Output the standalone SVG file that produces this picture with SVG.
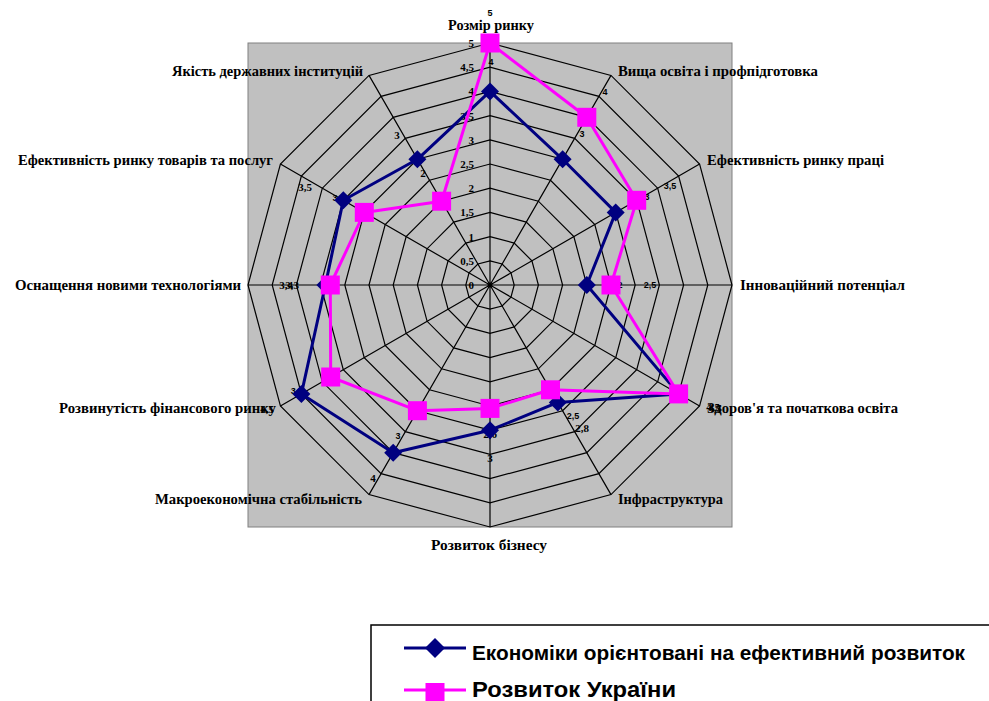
<svg xmlns="http://www.w3.org/2000/svg" width="989" height="701" viewBox="0 0 989 701">
  <style>
    .grid { fill: none; stroke: #000; stroke-width: 1.2; }
    .cat { font-family: "Liberation Serif", "Times New Roman", serif; font-weight: bold; font-size: 14.7px; fill: #000; }
    .tick { font-family: "Liberation Serif", "Times New Roman", serif; font-weight: bold; font-size: 11px; fill: #000; text-anchor: end; }
    .dl { font-family: "Liberation Sans", Arial, sans-serif; font-weight: bold; font-size: 9px; fill: #000; text-anchor: middle; }
    .dls { font-family: "Liberation Serif", "Times New Roman", serif; font-weight: bold; font-size: 11px; fill: #000; text-anchor: middle; }
    .eco { fill: none; stroke: #000080; stroke-width: 3; stroke-linejoin: round; }
    .ukr { fill: none; stroke: #FF00FF; stroke-width: 3; stroke-linejoin: round; }
    .leg { font-family: "Liberation Sans", Arial, sans-serif; font-weight: bold; fill: #000; }
  </style>
  <defs>
    <polygon id="diamond" points="0,-9 9,0 0,9 -9,0" fill="#000080"/>
    <rect id="square" x="-9.5" y="-9.5" width="19" height="19" fill="#FF00FF"/>
  </defs>

  <rect width="989" height="701" fill="#fff"/>

  <!-- plot area -->
  <rect id="plot-area" x="248" y="43" width="484" height="484" fill="#C0C0C0" stroke="#808080" stroke-width="1"/>

  <!-- radar grid: rings every 0.5 and twelve spokes -->
  <g id="grid" class="grid">
    <polygon points="490,260.8 502.1,264.04 510.96,272.9 514.2,285 510.96,297.1 502.1,305.96 490,309.2 477.9,305.96 469.04,297.1 465.8,285 469.04,272.9 477.9,264.04"/>
    <polygon points="490,236.6 514.2,243.08 531.92,260.8 538.4,285 531.92,309.2 514.2,326.92 490,333.4 465.8,326.92 448.08,309.2 441.6,285 448.08,260.8 465.8,243.08"/>
    <polygon points="490,212.4 526.3,222.13 552.87,248.7 562.6,285 552.87,321.3 526.3,347.87 490,357.6 453.7,347.87 427.13,321.3 417.4,285 427.13,248.7 453.7,222.13"/>
    <polygon points="490,188.2 538.4,201.17 573.83,236.6 586.8,285 573.83,333.4 538.4,368.83 490,381.8 441.6,368.83 406.17,333.4 393.2,285 406.17,236.6 441.6,201.17"/>
    <polygon points="490,164 550.5,180.21 594.79,224.5 611,285 594.79,345.5 550.5,389.79 490,406 429.5,389.79 385.21,345.5 369,285 385.21,224.5 429.5,180.21"/>
    <polygon points="490,139.8 562.6,159.25 615.75,212.4 635.2,285 615.75,357.6 562.6,410.75 490,430.2 417.4,410.75 364.25,357.6 344.8,285 364.25,212.4 417.4,159.25"/>
    <polygon points="490,115.6 574.7,138.3 636.7,200.3 659.4,285 636.7,369.7 574.7,431.7 490,454.4 405.3,431.7 343.3,369.7 320.6,285 343.3,200.3 405.3,138.3"/>
    <polygon points="490,91.4 586.8,117.34 657.66,188.2 683.6,285 657.66,381.8 586.8,452.66 490,478.6 393.2,452.66 322.34,381.8 296.4,285 322.34,188.2 393.2,117.34"/>
    <polygon points="490,67.2 598.9,96.38 678.62,176.1 707.8,285 678.62,393.9 598.9,473.62 490,502.8 381.1,473.62 301.38,393.9 272.2,285 301.38,176.1 381.1,96.38"/>
    <polygon points="490,43 611,75.42 699.58,164 732,285 699.58,406 611,494.58 490,527 369,494.58 280.42,406 248,285 280.42,164 369,75.42"/>
    <path d="M490,285L490,43M490,285L611,75.42M490,285L699.58,164M490,285L732,285M490,285L699.58,406M490,285L611,494.58M490,285L490,527M490,285L369,494.58M490,285L280.42,406M490,285L248,285M490,285L280.42,164M490,285L369,75.42"/>
  </g>

  <!-- value axis labels -->
  <g id="axis-labels" class="tick">
    <text x="474" y="289">0</text>
    <text x="474" y="264.8">0,5</text>
    <text x="474" y="240.6">1</text>
    <text x="474" y="216.4">1,5</text>
    <text x="474" y="192.2">2</text>
    <text x="474" y="168">2,5</text>
    <text x="474" y="143.8">3</text>
    <text x="474" y="119.6">3,5</text>
    <text x="474" y="95.4">4</text>
    <text x="474" y="71.2">4,5</text>
    <text x="474" y="47">5</text>
  </g>

  <!-- category labels -->
  <g id="categories" class="cat" lengthAdjust="spacingAndGlyphs">
    <text x="491" y="30" text-anchor="middle" textLength="86" lengthAdjust="spacingAndGlyphs">Розмір ринку</text>
    <text x="618" y="76" textLength="200" lengthAdjust="spacingAndGlyphs">Вища освіта і профпідготовка</text>
    <text x="707" y="165" textLength="177" lengthAdjust="spacingAndGlyphs">Ефективність ринку праці</text>
    <text x="740" y="290" textLength="165" lengthAdjust="spacingAndGlyphs">Інноваційний потенціал</text>
    <text x="707" y="413" textLength="191" lengthAdjust="spacingAndGlyphs">Здоров'я та початкова освіта</text>
    <text x="618" y="504" textLength="105" lengthAdjust="spacingAndGlyphs">Інфраструктура</text>
    <text x="489" y="550" text-anchor="middle" textLength="116" lengthAdjust="spacingAndGlyphs">Розвиток бізнесу</text>
    <text x="362" y="504" text-anchor="end" textLength="207" lengthAdjust="spacingAndGlyphs">Макроекономічна стабільність</text>
    <text x="276" y="413" text-anchor="end" textLength="217" lengthAdjust="spacingAndGlyphs">Розвинутість фінансового ринку</text>
    <text x="241" y="290" text-anchor="end" textLength="226" lengthAdjust="spacingAndGlyphs">Оснащення новими технологіями</text>
    <text x="273" y="165" text-anchor="end" textLength="255" lengthAdjust="spacingAndGlyphs">Ефективність ринку товарів та послуг</text>
    <text x="363" y="76" text-anchor="end" textLength="191" lengthAdjust="spacingAndGlyphs">Якість державних інституцій</text>
  </g>

  <!-- data labels -->
  <g id="data-labels">
    <text class="dl" x="490" y="16">5</text>
    <text class="dl" x="491" y="65">4</text>
    <text class="dl" x="605" y="95">4</text>
    <text class="dl" x="582" y="137">3</text>
    <text class="dl" x="670" y="189">3,5</text>
    <text class="dl" x="647" y="200">3</text>
    <text class="dl" x="620" y="288">2</text>
    <text class="dl" x="650" y="288">2,5</text>
    <text class="dls" x="713" y="411">4,5</text>
    <text class="dls" x="715" y="412">4,5</text>
    <text class="dl" x="573" y="419">2,5</text>
    <text class="dls" x="582" y="432">2,8</text>
    <text class="dls" x="490" y="438">2,6</text>
    <text class="dls" x="490" y="462">3</text>
    <text class="dl" x="398" y="439">3</text>
    <text class="dls" x="373" y="482">4</text>
    <text class="dl" x="297" y="394">3,8</text>
    <text class="dls" x="267" y="413">4,5</text>
    <text class="dls" x="286" y="289">3,4</text>
    <text class="dls" x="292" y="289">3,3</text>
    <text class="dls" x="305" y="191">3,5</text>
    <text class="dl" x="335" y="201">3</text>
    <text class="dls" x="397" y="139">3</text>
    <text class="dls" x="423" y="177">2</text>
  </g>

  <!-- series: economies oriented on efficient development -->
  <g id="series-economies">
    <polygon class="eco" points="490,91.4 562.6,159.3 615.7,212.4 586.8,285 678.6,393.9 557.8,402.4 490,430.2 393.2,452.7 301.4,393.9 325.4,285 343.3,200.3 417.4,159.3"/>
    <use href="#diamond" x="490" y="91.4"/>
    <use href="#diamond" x="562.6" y="159.3"/>
    <use href="#diamond" x="615.7" y="212.4"/>
    <use href="#diamond" x="586.8" y="285"/>
    <use href="#diamond" x="678.6" y="393.9"/>
    <use href="#diamond" x="557.8" y="402.4"/>
    <use href="#diamond" x="490" y="430.2"/>
    <use href="#diamond" x="393.2" y="452.7"/>
    <use href="#diamond" x="301.4" y="393.9"/>
    <use href="#diamond" x="325.4" y="285"/>
    <use href="#diamond" x="343.3" y="200.3"/>
    <use href="#diamond" x="417.4" y="159.3"/>
  </g>

  <!-- series: Ukraine -->
  <g id="series-ukraine">
    <polygon class="ukr" points="490,43 586.8,117.3 636.7,200.3 611,285 678.6,393.9 550.5,389.8 490,408.4 417.4,410.7 330.7,377 330.3,285 364.3,212.4 441.6,201.2"/>
    <use href="#square" x="490" y="43"/>
    <use href="#square" x="586.8" y="117.3"/>
    <use href="#square" x="636.7" y="200.3"/>
    <use href="#square" x="611" y="285"/>
    <use href="#square" x="678.6" y="393.9"/>
    <use href="#square" x="550.5" y="389.8"/>
    <use href="#square" x="490" y="408.4"/>
    <use href="#square" x="417.4" y="410.7"/>
    <use href="#square" x="330.7" y="377"/>
    <use href="#square" x="330.3" y="285"/>
    <use href="#square" x="364.3" y="212.4"/>
    <use href="#square" x="441.6" y="201.2"/>
  </g>

  <!-- legend -->
  <g id="legend">
    <rect x="371" y="625" width="700" height="100" fill="#fff" stroke="#000" stroke-width="1.5"/>
    <line x1="404" y1="648" x2="466" y2="648" stroke="#000080" stroke-width="3"/>
    <polygon points="435,638 445,648 435,658 425,648" fill="#000080"/>
    <text class="leg" x="472" y="660" font-size="20.5" textLength="493" lengthAdjust="spacingAndGlyphs">Економіки орієнтовані на ефективний розвиток</text>
    <line x1="404" y1="690" x2="466" y2="690" stroke="#FF00FF" stroke-width="3"/>
    <rect x="425.5" y="683" width="19" height="18" fill="#FF00FF"/>
    <text class="leg" x="472" y="697" font-size="22.5" textLength="204" lengthAdjust="spacingAndGlyphs">Розвиток України</text>
  </g>
</svg>
